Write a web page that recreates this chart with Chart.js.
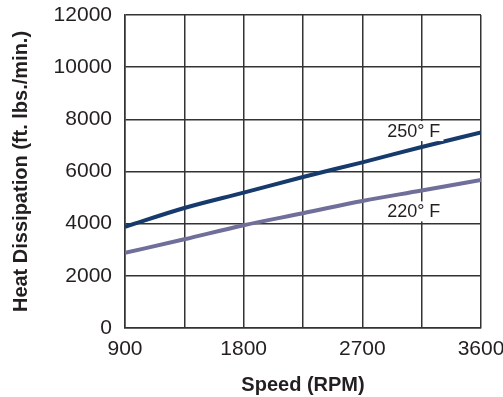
<!DOCTYPE html>
<html>
<head>
<meta charset="utf-8">
<script src="https://cdn.jsdelivr.net/npm/chart.js@4"></script>
<style>
  body { margin: 0; background: #fff; }
</style>
</head>
<body>
<canvas id="grafic" width="503" height="397"></canvas>
<script>
// speed in rpm, heat dissipation in ft. lbs./min.
const speeds = [900, 1350, 1800, 2250, 2700, 3150, 3600];
const heat250 = [3880, 4600, 5190, 5790, 6350, 6940, 7500];
const heat220 = [2880, 3400, 3940, 4400, 4870, 5270, 5680];
const seriesNames = ["250° F", "220° F"];
const xTickLabels = [900, 1800, 2700, 3600];
const yTicks = [0, 2000, 4000, 6000, 8000, 10000, 12000];

// where the curve names sit, in chart units
const labelSpots = [
  { x: 3090, y: 7550 },
  { x: 3090, y: 4470 }
];

function toPoints(xs, ys) {
  return xs.map((x, i) => ({ x: x, y: ys[i] }));
}

const curveLabels = {
  id: "curveLabels",
  afterDatasetsDraw(chart) {
    let ctx = chart.ctx;
    let xs = chart.scales.x;
    let ys = chart.scales.y;
    ctx.save();
    ctx.font = "18px 'Liberation Sans', Arial, sans-serif";
    ctx.textAlign = "center";
    ctx.textBaseline = "middle";
    for (let i = 0; i < seriesNames.length; i++) {
      let px = xs.getPixelForValue(labelSpots[i].x);
      let py = ys.getPixelForValue(labelSpots[i].y);
      let w = ctx.measureText(seriesNames[i]).width;
      ctx.fillStyle = "#fff";
      ctx.fillRect(px - w / 2 - 3, py - 10, w + 6, 20);
      ctx.fillStyle = "#231f20";
      ctx.fillText(seriesNames[i], px, py + 1);
    }
    ctx.restore();
  }
};

const gridColor = "#333333";
const textColor = "#231f20";
const fontFamily = "'Liberation Sans', Arial, sans-serif";

new Chart(document.getElementById("grafic").getContext("2d"), {
  type: "line",
  data: {
    datasets: [
      {
        label: seriesNames[0],
        data: toPoints(speeds, heat250),
        borderColor: "#173a6d",
        borderWidth: 4,
        pointRadius: 0,
        cubicInterpolationMode: "monotone",
        fill: false
      },
      {
        label: seriesNames[1],
        data: toPoints(speeds, heat220),
        borderColor: "#6f6f9a",
        borderWidth: 4,
        pointRadius: 0,
        cubicInterpolationMode: "monotone",
        fill: false
      }
    ]
  },
  options: {
    responsive: false,
    animation: false,
    devicePixelRatio: 1,
    layout: { padding: { top: 15, right: 22, left: 0, bottom: 0 } },
    plugins: {
      legend: { display: false },
      tooltip: { enabled: false }
    },
    scales: {
      x: {
        type: "linear",
        min: 900,
        max: 3600,
        grid: { color: gridColor, lineWidth: 1.5, drawTicks: false },
        border: { color: gridColor, width: 1.5 },
        ticks: {
          stepSize: 450,
          autoSkip: false,
          maxRotation: 0,
          padding: 9,
          color: textColor,
          font: { family: fontFamily, size: 21 },
          callback: v => xTickLabels.includes(v) ? String(v) : ""
        },
        title: {
          display: true,
          text: "Speed (RPM)",
          color: textColor,
          font: { family: fontFamily, size: 20, weight: "bold" },
          padding: { top: 0, bottom: 0 }
        },
        afterFit(scale) {
          scale.height = 69;
          scale.paddingLeft = 0;
          scale.paddingRight = 0;
        }
      },
      y: {
        min: 0,
        max: 12000,
        grid: { color: gridColor, lineWidth: 1.5, drawTicks: false },
        border: { color: gridColor, width: 1.5 },
        afterBuildTicks(scale) {
          scale.ticks = yTicks.map(v => ({ value: v }));
        },
        ticks: {
          padding: 13,
          color: textColor,
          font: { family: fontFamily, size: 21 },
          callback: v => String(v)
        },
        title: {
          display: true,
          text: "Heat Dissipation (ft. lbs./min.)",
          color: textColor,
          font: { family: fontFamily, size: 20, weight: "bold" },
          padding: { top: 9, bottom: 0 }
        },
        afterFit(scale) {
          scale.width = 125;
          scale.paddingTop = 0;
          scale.paddingBottom = 0;
        }
      }
    }
  },
  plugins: [curveLabels]
});
</script>
</body>
</html>
